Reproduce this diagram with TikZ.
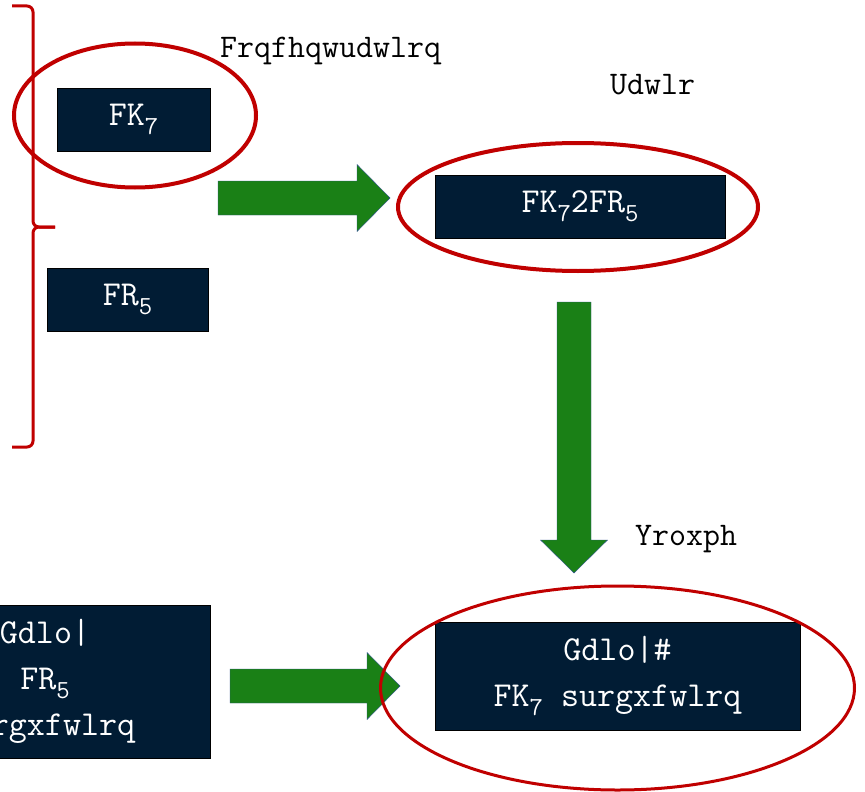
\documentclass[tikz,border=0pt]{standalone}
\usetikzlibrary{calc}
\definecolor{boxnavy}{RGB}{1,28,52}
\definecolor{ringred}{RGB}{192,0,0}
\definecolor{arrowgreen}{RGB}{26,128,22}
\definecolor{arrowedge}{RGB}{47,82,143}
% lowered small index
\newcommand{\lowidx}[1]{\raisebox{-0.25em}{\fontsize{26}{26}\selectfont #1}}
% fat block arrow between two named coordinates
\newcommand{\blockarrow}[2]{%
  \coordinate (neck) at ($(#2)!33pt!(#1)$);
  \draw[fatarrow] ($(#1)!17pt!90:(#2)$) -- ($(neck)!17pt!90:(#2)$)
    -- ($(neck)!33.5pt!90:(#2)$) -- (#2) -- ($(neck)!33.5pt!-90:(#2)$)
    -- ($(neck)!17pt!-90:(#2)$) -- ($(#1)!17pt!-90:(#2)$) -- cycle;}
\begin{document}
\begin{tikzpicture}[x=1pt, y=-1pt,
    box/.style={draw=black, thin, fill=boxnavy, text=white, align=center,
      inner sep=0pt, font=\ttfamily\fontsize{35}{46}\selectfont},
    heading/.style={anchor=base west, inner sep=0pt,
      font=\ttfamily\fontsize{33}{38}\selectfont},
    ring/.style={draw=ringred, line width=4pt},
    fatarrow/.style={fill=arrowgreen, draw=arrowedge, thin}]
    \useasboundingbox (0,0) rectangle (865,792);
    \clip (0,0) rectangle (865,792);

    % Brace round the two gases
    \draw[ringred, line width=3pt, rounded corners=6pt] (12,6) -| (33,227) -- (55,227);
    \draw[ringred, line width=3pt, rounded corners=6pt] (55,227) -| (33,447) -- (12,447);

    % Gas boxes
    \node[box, minimum width=153, minimum height=63] (ch) at (133.5,119.5) {FK\lowidx{7}};
    \node[box, minimum width=161, minimum height=63] (co) at (127.5,299.5) {FR\lowidx{5}};
    \node[box, minimum width=290, minimum height=63] (mix) at (580,206.5) {FK\lowidx{7}2FR\lowidx{5}};

    % Daily boxes
    \node[box, minimum width=330, minimum height=153] (dco) at (45,681.5)
        {Gdlo|\\FR\lowidx{5}\\surgxfwlrq};
    \node[box, minimum width=365, minimum height=108] (dch) at (617.5,676)
        {Gdlo|\#\\FK\lowidx{7} surgxfwlrq};

    % Headings
    \node[heading] (conc) at (220,58) {Frqfhqwudwlrq};
    \node[heading] (ratio) at (610,95) {Udwlr};
    \node[heading] (vol) at (635,545) {Yroxph};

    % Green arrows
    \coordinate (a1s) at (218,198);
    \coordinate (a1e) at (390,198);
    \coordinate (a2s) at (574,302);
    \coordinate (a2e) at (574,573);
    \coordinate (a3s) at (230,686);
    \coordinate (a3e) at (400,686);
    \blockarrow{a1s}{a1e}
    \blockarrow{a2s}{a2e}
    \blockarrow{a3s}{a3e}

    % Red rings
    \draw[ring] (135,115.5) ellipse [x radius=121, y radius=72];
    \draw[ring] (578,207) ellipse [x radius=180, y radius=64];
    \draw[ring, line width=3pt] (617.5,688) ellipse [x radius=237, y radius=102];
\end{tikzpicture}
\end{document}
